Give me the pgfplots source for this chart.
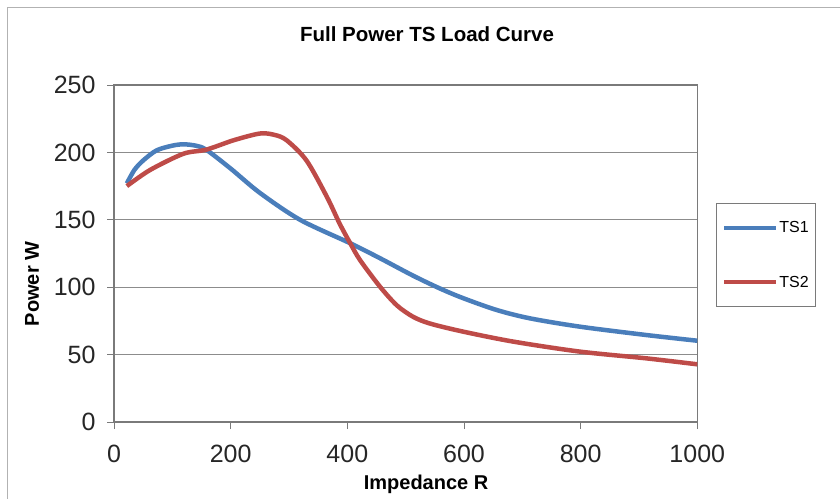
\documentclass[border=0pt]{standalone}
\usepackage{fontspec}
\setmainfont{Liberation Sans}
\usepackage{pgfplots}
\pgfplotsset{compat=1.18}
\definecolor{tsblue}{HTML}{4A7EBB}
\definecolor{tsred}{HTML}{BE4B48}
\definecolor{gridgray}{HTML}{8C8C8C}
\definecolor{axgray}{HTML}{7A7A7A}
\begin{document}
\begin{tikzpicture}
\useasboundingbox (0pt,0pt) rectangle (840pt,498pt);
\begin{scope}
\clip (0pt,0pt) rectangle (840pt,498pt);
\draw[color=gray!60, line width=1pt] (7pt,-10pt) rectangle (850pt,490pt);
\end{scope}
\begin{axis}[
  at={(114pt,76pt)}, anchor=south west,
  scale only axis, width=583.3pt, height=337pt,
  xmin=0, xmax=1000, ymin=0, ymax=250,
  xtick={0,200,400,600,800,1000},
  ytick={0,50,100,150,200,250},
  xtick pos=bottom, ytick pos=left,
  tick align=outside, major tick length=7pt,
  tick style={axgray, line width=0.9pt},
  axis line style={axgray, line width=1.2pt},
  ymajorgrids, grid style={gridgray, line width=0.9pt},
  /pgf/number format/assume math mode=true,
  /pgf/number format/1000 sep={},
  tick label style={font=\fontsize{25}{29}\selectfont, color=black!85},
  yticklabel style={xshift=-8pt},
  xticklabel style={yshift=-13pt},
  title={\textbf{Full Power TS Load Curve}},
  title style={at={(axis description cs:0.5366,1.1335)}, anchor=center, font=\fontsize{20.5}{24}\selectfont},
  xlabel={\textbf{Impedance R}},
  xlabel style={at={(axis description cs:0.535,-0.186)}, anchor=center, font=\fontsize{20}{24}\selectfont},
  ylabel={\textbf{Power W}},
  ylabel style={at={(axis description cs:-0.1406,0.4095)}, anchor=center, font=\fontsize{20}{24}\selectfont},
  legend style={at={(axis description cs:1.032,0.650)}, anchor=north west,
    draw=axgray, line width=0.8pt, font=\fontsize{16}{19}\selectfont,
    inner xsep=6pt, inner ysep=17pt, row sep=40pt,
    nodes={inner sep=1pt}},
  legend cell align=left,
  legend image code/.code={\draw[#1, line width=4pt] (0pt,0pt) -- (52pt,0pt);},
]
\addplot[tsblue, line width=4.5pt, smooth] coordinates {
(22,177)(35,187)(50,194)(73,201.5)(100,205)(119,206)(140,205)(158,202)
(200,188)(250,170)(319,150)(405,132.6)(456,121.5)(513,108.5)(559,99)
(599,91.8)(656,83.1)(713,76.9)(799,70.7)(913,64.5)(1000,60.3)};
\addlegendentry{TS1}
\addplot[tsred, line width=4.5pt, smooth] coordinates {
(22,175)(62,187)(119,199)(158,202)(205,209)(250,214)(275,213)(296,209)
(330,194)(365,167)(387,147)(405,132.6)(422,120)(456,100.4)(485,86.5)
(513,78)(542,73)(599,67)(685,59.6)(799,52.2)(913,47.2)(1000,42.8)};
\addlegendentry{TS2}
\end{axis}
\end{tikzpicture}
\end{document}
